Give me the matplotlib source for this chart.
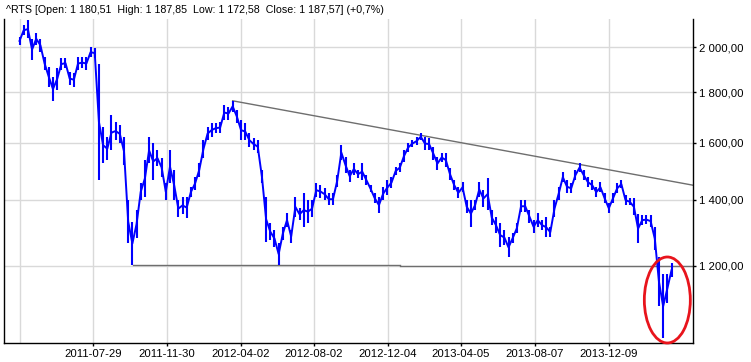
import numpy as np
import pandas as pd
import matplotlib
matplotlib.use("Agg")
import matplotlib.pyplot as plt
import matplotlib.dates as mdates
from matplotlib.patches import Ellipse
from matplotlib.ticker import FuncFormatter, FixedLocator, NullLocator

plt.rcParams['font.family'] = ['Liberation Sans', 'DejaVu Sans']

# ---- data (weekly high / low of ^RTS) ----
week_start = "2011-03-28"
highs = [2050, 2105, 2130, 2040, 2070, 2040, 1955, 1910, 1865, 1905,
         1950, 1950, 1888, 1884, 1955, 1955, 1955, 2000, 1997, 1925,
         1660, 1620, 1707, 1680, 1668, 1620, 1400, 1330, 1367, 1455,
         1537, 1620, 1600, 1573, 1545, 1455, 1573, 1501, 1399, 1410,
         1410, 1442, 1477, 1526, 1610, 1660, 1676, 1676, 1680, 1748,
         1740, 1765, 1727, 1687, 1676, 1636, 1618, 1610, 1501, 1410,
         1326, 1305, 1266, 1314, 1357, 1305, 1410, 1373, 1422, 1399,
         1399, 1455, 1449, 1439, 1422, 1422, 1484, 1591, 1548, 1501,
         1526, 1501, 1526, 1484, 1449, 1422, 1410, 1442, 1466, 1477,
         1512, 1526, 1573, 1600, 1610, 1622, 1636, 1622, 1618, 1584,
         1548, 1562, 1562, 1508, 1466, 1442, 1459, 1399, 1399, 1399,
         1459, 1433, 1473, 1367, 1345, 1326, 1305, 1283, 1295, 1326,
         1399, 1399, 1367, 1335, 1357, 1335, 1345, 1314, 1399, 1442,
         1494, 1466, 1455, 1501, 1526, 1501, 1477, 1466, 1442, 1459,
         1422, 1389, 1422, 1455, 1466, 1416, 1405, 1405, 1354, 1351,
         1351, 1351, 1314, 1224, 1177, 1177, 1208]
lows = [2011, 2058, 2045, 1941, 2011, 1980, 1897, 1825, 1765, 1810,
        1897, 1905, 1831, 1825, 1897, 1905, 1897, 1955, 1950, 1466,
        1525, 1537, 1573, 1610, 1600, 1519, 1265, 1202, 1280, 1399,
        1410, 1525, 1466, 1515, 1477, 1399, 1455, 1399, 1345, 1355,
        1341, 1410, 1433, 1477, 1544, 1610, 1622, 1636, 1636, 1687,
        1687, 1720, 1676, 1610, 1610, 1584, 1573, 1562, 1455, 1270,
        1274, 1254, 1202, 1274, 1314, 1266, 1345, 1335, 1314, 1326,
        1345, 1410, 1407, 1399, 1383, 1383, 1442, 1537, 1490, 1459,
        1484, 1473, 1466, 1449, 1425, 1389, 1357, 1399, 1416, 1439,
        1484, 1494, 1530, 1566, 1584, 1591, 1610, 1573, 1573, 1537,
        1501, 1530, 1512, 1466, 1433, 1405, 1425, 1357, 1314, 1367,
        1410, 1377, 1367, 1320, 1295, 1254, 1260, 1224, 1266, 1295,
        1360, 1360, 1326, 1295, 1314, 1305, 1283, 1283, 1345, 1399,
        1459, 1422, 1422, 1466, 1494, 1466, 1442, 1433, 1410, 1425,
        1389, 1357, 1389, 1422, 1439, 1383, 1383, 1351, 1266, 1320,
        1323, 1314, 1245, 1092, 1013, 1100, 1168]

tick_dates = ["2011-03-28", "2011-07-29", "2011-11-30", "2012-04-02", "2012-08-02",
              "2012-12-04", "2013-04-05", "2013-08-07", "2013-12-09"]
tick_labels = ["", "2011-07-29", "2011-11-30", "2012-04-02", "2012-08-02",
               "2012-12-04", "2013-04-05", "2013-08-07", "2013-12-09"]
y_ticks = [1200, 1400, 1600, 1800, 2000]

# trend lines (date, value)
resist_line = (["2012-03-19", "2014-04-29"], [1765, 1449])
support_line1 = (["2011-10-04", "2012-12-24"], [1202, 1202])
support_line2 = (["2012-12-24", "2014-04-29"], [1199, 1199])
circle_center = ("2014-03-17", 1108)

title = "^RTS [Open: 1 180,51  High: 1 187,85  Low: 1 172,58  Close: 1 187,57] (+0,7%)"

# ---- figure ----
W, H = 751, 362
fig = plt.figure(figsize=(W / 100, H / 100), dpi=100)
ax = fig.add_axes([4 / W, 1 - 343 / H, (693 - 4) / W, (343 - 19) / H])

dates = pd.date_range(week_start, periods=len(highs), freq="7D")
hi = np.array(highs, float)
lo = np.array(lows, float)
mid = np.sqrt(hi * lo)

ax.set_yscale("log")
ax.set_ylim(1002, 2137)
ax.set_xlim(pd.Timestamp("2011-03-02"), pd.Timestamp("2014-04-29"))

blue = "#0000ff"
ax.vlines(dates, lo, hi, color=blue, lw=1.5, zorder=3)
ax.plot(dates, mid, color=blue, lw=1.4, zorder=3)

gray = "#6e6e6e"
for d, v in (resist_line, support_line1, support_line2):
    ax.plot(pd.to_datetime(d), v, color=gray, lw=1.0, zorder=2)

# ticks / grid
ax.yaxis.set_major_locator(FixedLocator(y_ticks))
ax.yaxis.set_minor_locator(NullLocator())
ax.yaxis.set_major_formatter(FuncFormatter(
    lambda v, p: f"{v:,.2f}".replace(",", " ").replace(".", ",")))
ax.yaxis.tick_right()
ax.set_xticks(pd.to_datetime(tick_dates))
ax.set_xticklabels(tick_labels)
ax.tick_params(axis="both", which="major", length=2.5, width=1, color="black",
               labelsize=8.2, labelcolor="black", pad=1.5)
ax.tick_params(axis="x", which="minor", length=0)
ax.xaxis.get_major_ticks()[0].tick1line.set_visible(False)
ax.grid(True, color="#d9d9d9", lw=1.0, zorder=0)
ax.set_axisbelow(True)

for s in ("left", "right", "bottom"):
    ax.spines[s].set_color("black")
    ax.spines[s].set_linewidth(1.0)
ax.spines["top"].set_visible(False)

# red ellipse highlighting the final crash
cx = mdates.date2num(pd.Timestamp(circle_center[0]))
disp = ax.transData.transform((cx, circle_center[1]))
axc = ax.transAxes.inverted().transform(disp)
ax.add_patch(Ellipse(axc, 46 / 689, 86 / 324, transform=ax.transAxes,
                     fill=False, edgecolor="#e8141c", lw=2.0, zorder=5,
                     clip_on=False))

fig.text(6 / W, 1 - 10 / H, title, fontsize=7.7, va="center", ha="left")

fig.savefig("out.png", dpi=100, facecolor="white")
